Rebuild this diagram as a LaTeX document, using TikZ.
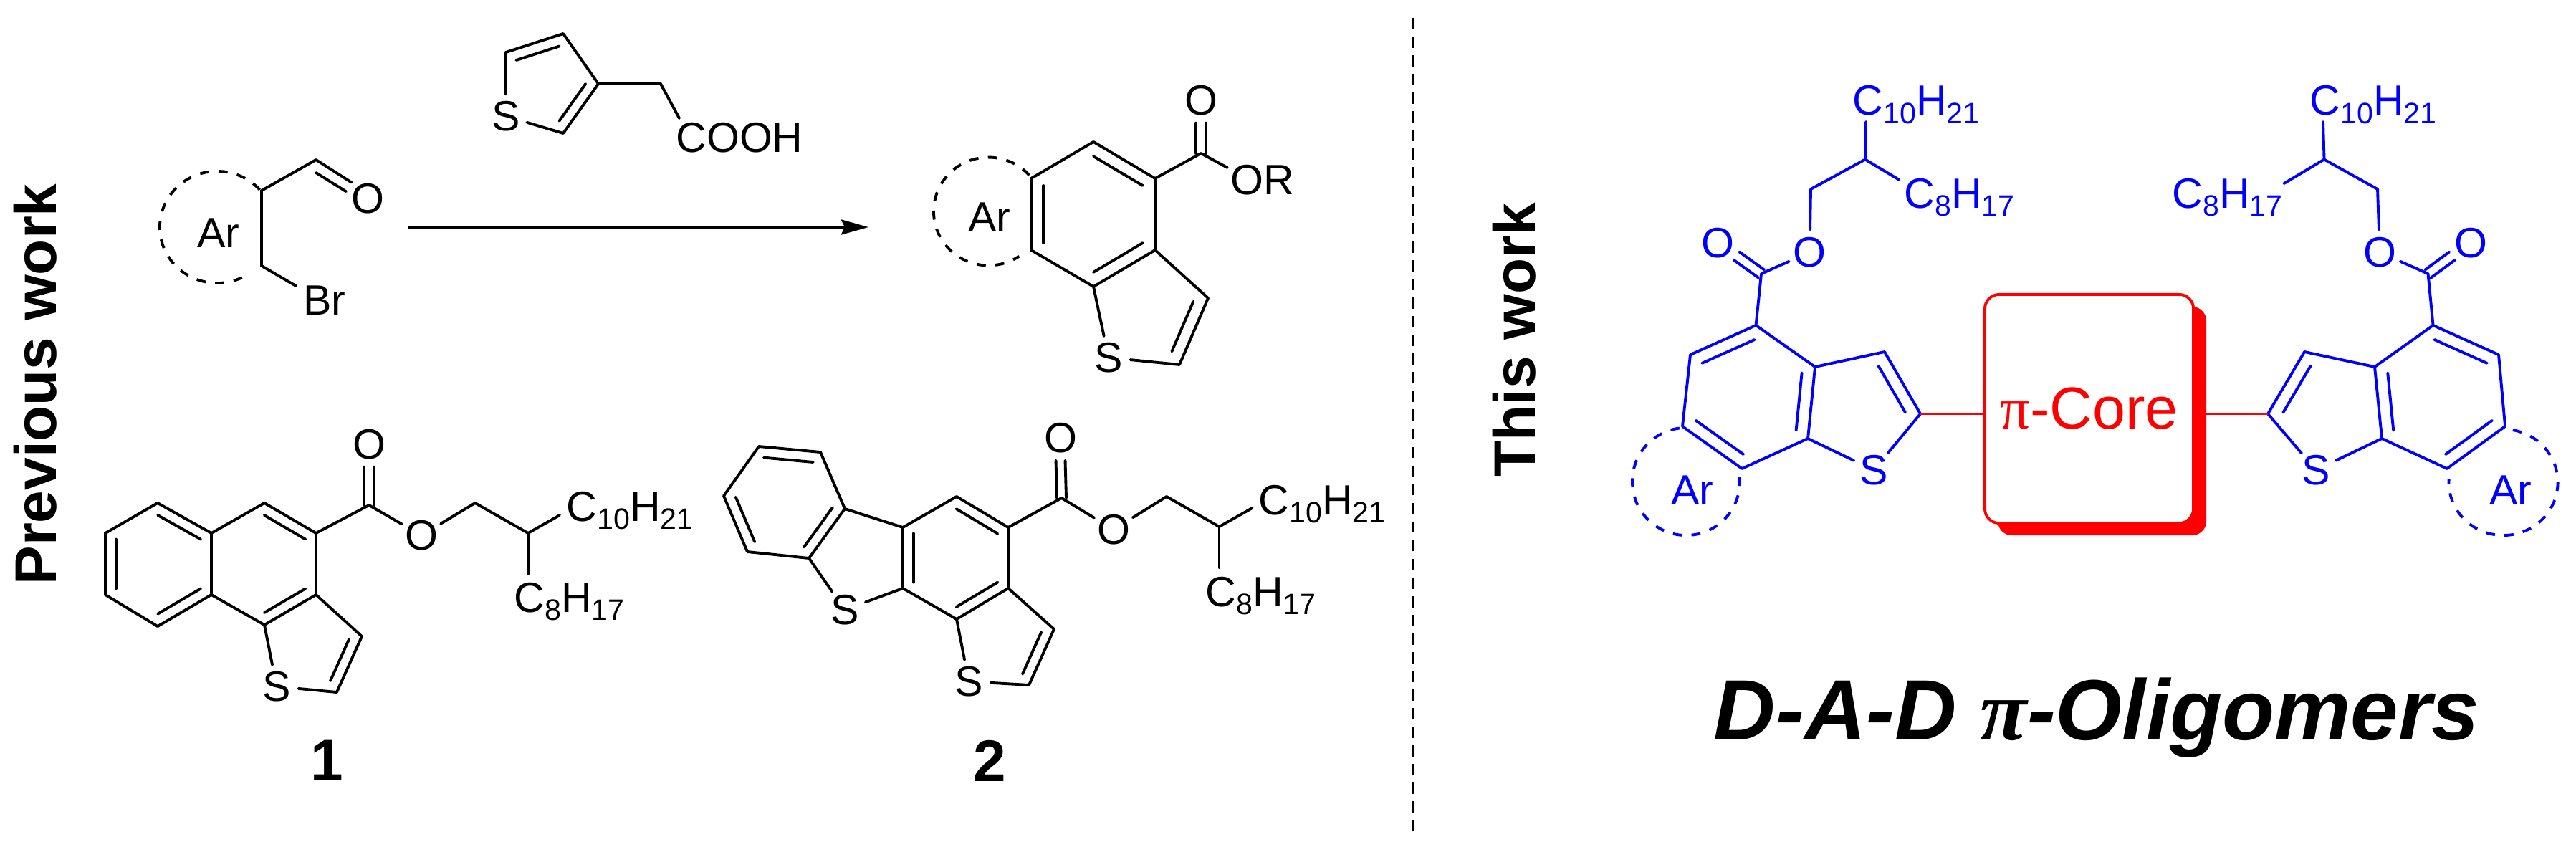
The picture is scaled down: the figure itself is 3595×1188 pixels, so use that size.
\documentclass[tikz,border=0pt]{standalone}
\usepackage{fontspec}
\setmainfont{Liberation Sans}
\newfontfamily\grkfont{Liberation Serif}
\usepackage{tikz}
\usetikzlibrary{arrows.meta, calc, shadows}

% Inner line of a ring double bond, pulled towards the ring centre
\newcommand{\inbond}[4]{\draw[bond] ($(#2)!#1!(#4)$) -- ($(#3)!#1!(#4)$);}
% Carbonyl double bond, two lines either side of the axis
\newcommand{\cobond}[3]{\draw[bond] ($(#1)+(#3)$) -- ($(#2)+(#3)$); \draw[bond] ($(#1)-(#3)$) -- ($(#2)-(#3)$);}
% Dashed aryl ring
\newcommand{\arring}[5]{\draw[dashring] ($(#1)+(#2:#4cm and #5cm)$) arc[start angle=#2, end angle=#3, x radius=#4cm, y radius=#5cm];}
\newcommand{\subn}[1]{\raisebox{-0.2em}{\fontsize{11.7}{14}\selectfont #1}}

\begin{document}
\begin{tikzpicture}[
    x=0.01cm, y=-0.01cm,
    % Text styles
    atomtext/.style={font=\fontsize{16.8}{20}\selectfont, inner sep=0pt},
    atom/.style={atomtext, circle, minimum size=0.6cm},
    chain/.style={atomtext, anchor=base west},
    sectionlabel/.style={font=\fontsize{23.3}{28}\selectfont\bfseries, inner sep=0pt, anchor=base},
    % Line styles
    bond/.style={line width=1.1pt, line cap=round},
    dashring/.style={line width=1.1pt, dash pattern=on 3.6pt off 3.8pt},
    divider/.style={line width=0.85pt, dash pattern=on 4.5pt off 2.9pt},
    reaction/.style={line width=1.1pt, -{Stealth[length=0.38cm, width=0.21cm, inset=0.05cm]}},
    % Core box
    corebox/.style={draw=red, fill=white, line width=1.1pt, rounded corners=0.2cm, minimum width=2.91cm, minimum height=3.19cm, inner sep=0pt,
        text=red, font=\fontsize{23.5}{28}\selectfont, general shadow={fill=red, shadow xshift=0.18cm, shadow yshift=-0.17cm}},
    corelink/.style={red, line width=1.1pt}
]
\useasboundingbox (0,0) rectangle (3595,1188);

% Side labels and divider
\node[sectionlabel, rotate=90] (prevwork) at (78,536.5) {Previous work};
\node[sectionlabel, rotate=90] (thiswork) at (2142,474) {This work};
\coordinate (dvt) at (1972,25);
\coordinate (dvb) at (1972,1167);
\draw[divider] (dvt) -- (dvb);

% Thiophene acetic acid
\foreach \n/\x/\y in {r1/706/73, r2/786/47, r3/835/117, r4/786/186, rt/764/117, r5/922/117, re/948/165}
    \coordinate (\n) at (\x,\y);
\node[atom] (rs) at (706,162) {S};
\node[atomtext] (rcooh) at (1032,192) {COOH};
\foreach \a/\b in {r1/r2, r2/r3, r3/r4, r4/rs, rs/r1, r3/r5, r5/re}
    \draw[bond] (\a) -- (\b);
\foreach \a/\b in {r1/r2, r3/r4}
    {\inbond{.25}{\a}{\b}{rt}}

% Starting aldehyde
\foreach \n/\x/\y in {a1/365/266, a2/365/371, a3/441/223, a4/441/241, a5/413/399, ac/303/317}
    \coordinate (\n) at (\x,\y);
\node[atom] (ao) at (513,277) {O};
\node[atomtext] (abr) at (453,419) {Br};
\node[atomtext] (aar) at (305,325) {Ar};
\foreach \a/\b in {a1/a2, a1/a3, a3/ao.135, a4/ao.162, a2/a5}
    \draw[bond] (\a) -- (\b);
\arring{ac}{42}{303}{0.80}{0.78}

% Reaction arrow
\coordinate (ars) at (569,317);
\coordinate (are) at (1212,317);
\draw[reaction] (ars) -- (are);

% Product
\foreach \n/\x/\y in {p1/1439/249, p2/1526/198, p3/1612/249, p4/1612/349, p5/1526/400, p6/1439/349, pc/1526/299,
    p7/1686/416, p8/1646/509, pt/1603.4/434.6, pk/1676/214, pq/1713/234, pac/1379.5/295}
    \coordinate (\n) at (\x,\y);
\node[atom] (ps) at (1547,499) {S};
\node[atom] (po) at (1676,140) {O};
\node[atomtext] (por) at (1762,251) {OR};
\node[atomtext] (par) at (1381,303) {Ar};
\foreach \a/\b in {p1/p2, p2/p3, p3/p4, p4/p5, p5/p6, p6/p1, p3/pk, pk/pq, p4/p7, p7/p8, p8/ps, ps/p5}
    \draw[bond] (\a) -- (\b);
\foreach \a/\b in {p1/p6, p2/p3, p4/p5}
    {\inbond{.2}{\a}{\b}{pc}}
\inbond{.25}{p7}{p8}{pt}
\cobond{pk}{po.south}{7,0}
\arring{pac}{42}{304}{0.765}{0.754}

% Compound 1
\foreach \n/\x/\y in {m1/147/744, m2/220/702, m3/295/744, m4/295/830, m5/220/874, m6/147/830, ma/221/787,
    m7/369/702, m8/441/744, m9/441/830, m10/369/872, mb/368/787, m11/505/888, m12/470/966, mt/434/903,
    mk/515/705, m13/663/702, m14/737/744, m15/781/719, m16/737/801}
    \coordinate (\n) at (\x,\y);
\node[atom] (ms) at (386,958) {S};
\node[atom] (moo) at (515,620) {O};
\node[atom] (mo) at (588,747) {O};
\node[chain] (mc10) at (790,727) {C\subn{10}H\subn{21}};
\node[chain] (mc8) at (717,854) {C\subn{8}H\subn{17}};
\node[sectionlabel] (mnum) at (456,1089) {1};
\foreach \a/\b in {m1/m2, m2/m3, m3/m4, m4/m5, m5/m6, m6/m1, m3/m7, m7/m8, m8/m9, m9/m10, m10/m4,
    m8/mk, mk/mo, mo/m13, m13/m14, m14/m15, m14/m16, m9/m11, m11/m12, m12/ms, ms/m10}
    \draw[bond] (\a) -- (\b);
\foreach \a/\b in {m1/m6, m2/m3, m4/m5}
    {\inbond{.2}{\a}{\b}{ma}}
\foreach \a/\b in {m7/m8, m9/m10}
    {\inbond{.2}{\a}{\b}{mb}}
\inbond{.25}{m11}{m12}{mt}
\cobond{mk}{moo.south}{7,0}

% Compound 2
\foreach \n/\x/\y in {d1/1059/623, d2/1145/631, d3/1179/710, d4/1129/779, d5/1043/770, d6/1010/692, da/1094/701,
    d7/1260/736, d8/1335/693, d9/1407/736, d10/1407/821, d11/1335/864, d12/1260/821, db/1333/779,
    d13/1471/878, d14/1436/956, dt/1400/894, dk/1481.5/695, d15/1628/693, d16/1701.5/735, d17/1747.5/709, d18/1701.5/792}
    \coordinate (\n) at (\x,\y);
\node[atom] (ds1) at (1179,851) {S};
\node[atom] (ds2) at (1352,951) {S};
\node[atom] (doo) at (1480,611) {O};
\node[atom] (do) at (1554,739) {O};
\node[chain] (dc10) at (1756,718) {C\subn{10}H\subn{21}};
\node[chain] (dc8) at (1682,846) {C\subn{8}H\subn{17}};
\node[sectionlabel] (dnum) at (1381,1090) {2};
\foreach \a/\b in {d1/d2, d2/d3, d3/d4, d4/d5, d5/d6, d6/d1, d3/d7, d4/ds1, ds1/d12, d7/d8, d8/d9, d9/d10, d10/d11, d11/d12, d12/d7,
    d9/dk, dk/do, do/d15, d15/d16, d16/d17, d16/d18, d10/d13, d13/d14, d14/ds2, ds2/d11}
    \draw[bond] (\a) -- (\b);
\foreach \a/\b in {d1/d2, d3/d4, d5/d6}
    {\inbond{.2}{\a}{\b}{da}}
\foreach \a/\b in {d7/d12, d8/d9, d10/d11}
    {\inbond{.2}{\a}{\b}{db}}
\inbond{.25}{d13}{d14}{dt}
\cobond{dk}{doo.south}{6.5,0}

% D-A-D oligomer, donor arms
\begin{scope}[blue]
    \foreach \n/\x/\y in {l1/2359/495, l2/2450.5/454, l3/2533/512, l4/2523/612, l5/2431/654, l6/2348/595, lc/2441/554,
        l7/2630/491, l8/2680/577.5, lt/2596/570, lk/2458/382, l9/2527/264, l10/2603/222.5, l11/2604/170, l12/2650.5/251, lac/2353/672}
        \coordinate (\n) at (\x,\y);
    \node[atom] (ls) at (2615,656) {S};
    \node[atom] (loo) at (2397.5,339) {O};
    \node[atom] (lo) at (2525.5,352) {O};
    \node[atomtext] (lar) at (2362,684) {Ar};
    \node[chain] (lc10) at (2585,161) {C\subn{10}H\subn{21}};
    \node[chain] (lc8) at (2657,290) {C\subn{8}H\subn{17}};
    \foreach \a/\b in {l1/l2, l2/l3, l3/l4, l4/l5, l5/l6, l6/l1, l2/lk, lk/lo, lo/l9, l9/l10, l10/l11, l10/l12, l3/l7, l7/l8, l8/ls, ls/l4}
        \draw[bond] (\a) -- (\b);
    \foreach \a/\b in {l1/l2, l3/l4, l5/l6}
        {\inbond{.2}{\a}{\b}{lc}}
    \inbond{.25}{l7}{l8}{lt}
    \cobond{lk}{loo.-35}{4,-5.6}
    \arring{lac}{97}{365}{0.75}{0.75}

    \foreach \n/\x/\y in {g1/3487/495, g2/3395.5/454, g3/3314/512, g4/3324/612, g5/3415/654, g6/3496/595, gc/3405/554,
        g7/3216/491, g8/3165/577.5, gt/3250/570, gk/3388.5/382, g9/3318/264, g10/3243.5/222.5, g11/3242/170, g12/3187.5/256, gac/3493.5/673}
        \coordinate (\n) at (\x,\y);
    \node[atom] (gs) at (3232,656) {S};
    \node[atom] (goo) at (3448,339) {O};
    \node[atom] (go) at (3321,352) {O};
    \node[atomtext] (gar) at (3504,684) {Ar};
    \node[chain] (gc10) at (3223,161) {C\subn{10}H\subn{21}};
    \node[chain] (gc8) at (3031,290) {C\subn{8}H\subn{17}};
    \foreach \a/\b in {g1/g2, g2/g3, g3/g4, g4/g5, g5/g6, g6/g1, g2/gk, gk/go, go/g9, g9/g10, g10/g11, g10/g12, g3/g7, g7/g8, g8/gs, gs/g4}
        \draw[bond] (\a) -- (\b);
    \foreach \a/\b in {g1/g2, g3/g4, g5/g6}
        {\inbond{.2}{\a}{\b}{gc}}
    \inbond{.25}{g7}{g8}{gt}
    \cobond{gk}{goo.215}{4,5.6}
    \arring{gac}{80}{-183}{0.76}{0.74}
\end{scope}

% Acceptor core
\node[corebox] (core) at (2915.5,570.5) {{\grkfont π}-Core};
\draw[corelink] (l8) -- (l8 -| core.west);
\draw[corelink] (g8) -- (g8 -| core.east);

% Title
\node[inner sep=0pt, anchor=base, font=\fontsize{34}{40}\selectfont\bfseries\itshape] (title) at (2926,1032) {D-A-D {\grkfont π}-Oligomers};

\end{tikzpicture}
\end{document}
